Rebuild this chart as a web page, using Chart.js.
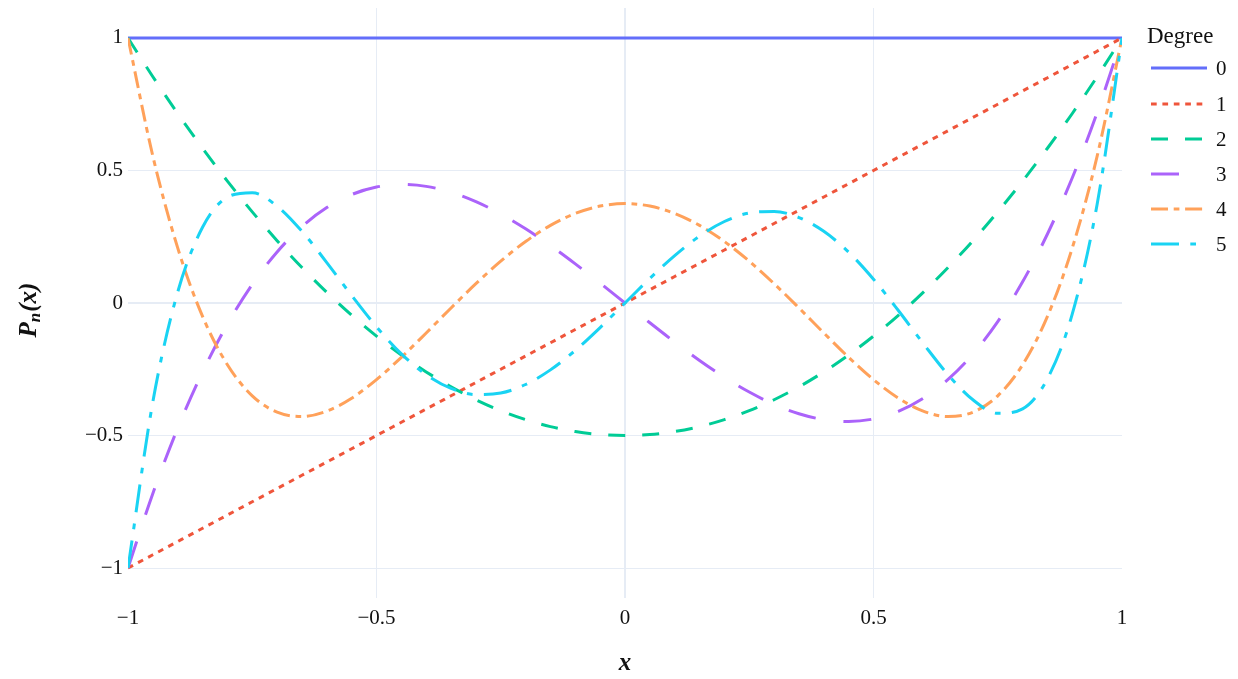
<!DOCTYPE html>
<html>
<head>
<meta charset="utf-8">
<script src="https://cdn.jsdelivr.net/npm/chart.js@4.4.1/dist/chart.umd.min.js"></script>
<style>
  html, body { margin: 0; padding: 0; background: #fff; }
  canvas { display: block; }
</style>
</head>
<body>
<canvas id="legendreChart" width="1238" height="679"></canvas>
<script>
// sample positions on the x axis
const xValues = [-1, -0.95, -0.9, -0.85, -0.8, -0.75, -0.7, -0.65, -0.6, -0.55, -0.5, -0.45, -0.4, -0.35, -0.3, -0.25, -0.2, -0.15, -0.1, -0.05,
    0, 0.05, 0.1, 0.15, 0.2, 0.25, 0.3, 0.35, 0.4, 0.45, 0.5, 0.55, 0.6, 0.65, 0.7, 0.75, 0.8, 0.85, 0.9, 0.95, 1];

const degreeLabels = ['0', '1', '2', '3', '4', '5'];

const p0 = [1, 1, 1, 1, 1, 1, 1, 1, 1, 1, 1, 1, 1, 1, 1, 1, 1, 1, 1, 1,
    1, 1, 1, 1, 1, 1, 1, 1, 1, 1, 1, 1, 1, 1, 1, 1, 1, 1, 1, 1, 1];
const p1 = [-1, -0.95, -0.9, -0.85, -0.8, -0.75, -0.7, -0.65, -0.6, -0.55, -0.5, -0.45, -0.4, -0.35, -0.3, -0.25, -0.2, -0.15, -0.1, -0.05,
    0, 0.05, 0.1, 0.15, 0.2, 0.25, 0.3, 0.35, 0.4, 0.45, 0.5, 0.55, 0.6, 0.65, 0.7, 0.75, 0.8, 0.85, 0.9, 0.95, 1];
const p2 = [1, 0.8538, 0.715, 0.5838, 0.46, 0.3438, 0.235, 0.1338, 0.04, -0.0463, -0.125, -0.1963, -0.26, -0.3163, -0.365, -0.4063, -0.44, -0.4663, -0.485, -0.4963,
    -0.5, -0.4963, -0.485, -0.4663, -0.44, -0.4063, -0.365, -0.3163, -0.26, -0.1963, -0.125, -0.0463, 0.04, 0.1338, 0.235, 0.3438, 0.46, 0.5838, 0.715, 0.8538, 1];
const p3 = [-1, -0.7184, -0.4725, -0.2603, -0.08, 0.0703, 0.1925, 0.2884, 0.36, 0.4091, 0.4375, 0.4472, 0.44, 0.4178, 0.3825, 0.3359, 0.28, 0.2166, 0.1475, 0.0747,
    0, -0.0747, -0.1475, -0.2166, -0.28, -0.3359, -0.3825, -0.4178, -0.44, -0.4472, -0.4375, -0.4091, -0.36, -0.2884, -0.1925, -0.0703, 0.08, 0.2603, 0.4725, 0.7184, 1];
const p4 = [1, 0.5541, 0.2079, -0.0506, -0.233, -0.3501, -0.4121, -0.4284, -0.408, -0.359, -0.2891, -0.205, -0.113, -0.0187, 0.0729, 0.1577, 0.232, 0.2928, 0.3379, 0.3657,
    0.375, 0.3657, 0.3379, 0.2928, 0.232, 0.1577, 0.0729, -0.0187, -0.113, -0.205, -0.2891, -0.359, -0.408, -0.4284, -0.4121, -0.3501, -0.233, -0.0506, 0.2079, 0.5541, 1];
const p5 = [-1, -0.3727, 0.0411, 0.2857, 0.3995, 0.4164, 0.3652, 0.2705, 0.1526, 0.0282, -0.0898, -0.1917, -0.2706, -0.3225, -0.3454, -0.3397, -0.3075, -0.2523, -0.1788, -0.0927,
    0, 0.0927, 0.1788, 0.2523, 0.3075, 0.3397, 0.3454, 0.3225, 0.2706, 0.1917, 0.0898, -0.0282, -0.1526, -0.2705, -0.3652, -0.4164, -0.3995, -0.2857, -0.0411, 0.3727, 1];

const yTickValues = [-1, -0.5, 0, 0.5, 1];

const seriesValues = [p0, p1, p2, p3, p4, p5];
const seriesColors = ['#636efa', '#EF553B', '#00cc96', '#ab63fa', '#FFA15A', '#19d3f3'];
const seriesDashes = [[], [5.7, 5.7], [17, 17], [28, 28], [17, 5.7, 5.7, 5.7], [28, 11.3, 5.7, 11.3]];

const FONT = '"Liberation Serif", "Times New Roman", serif';
const GRID = '#E6ECF5';

const fmtTick = (v) => (v < 0 ? '\u2212' + Math.abs(v) : String(v));

// legend + axis titles drawn by hand so the dashed samples look like the reference
const decorPlugin = {
    id: 'decor',
    afterDraw(chart) {
        const ctx = chart.ctx;
        const area = chart.chartArea;
        ctx.save();
        ctx.fillStyle = '#111';

        // legend
        ctx.font = '23px ' + FONT;
        ctx.textAlign = 'left';
        ctx.textBaseline = 'alphabetic';
        ctx.fillText('Degree', 1147, 43);
        const rowY = [68, 104, 139, 174, 209, 244];
        ctx.font = '21px ' + FONT;
        ctx.textBaseline = 'middle';
        degreeLabels.forEach((lab, i) => {
            ctx.strokeStyle = seriesColors[i];
            ctx.lineWidth = 3;
            ctx.setLineDash(seriesDashes[i]);
            ctx.beginPath();
            ctx.moveTo(1151, rowY[i]);
            ctx.lineTo(1207, rowY[i]);
            ctx.stroke();
            ctx.setLineDash([]);
            ctx.fillText(lab, 1216, rowY[i] + 1);
        });

        // x axis title
        ctx.font = 'italic bold 25px ' + FONT;
        ctx.textAlign = 'center';
        ctx.textBaseline = 'middle';
        ctx.fillText('x', (area.left + area.right) / 2, 664);

        // y axis title: P_n(x)
        ctx.translate(28, 310);
        ctx.rotate(-Math.PI / 2);
        const big = 'italic bold 25px ' + FONT;
        const small = 'italic bold 17px ' + FONT;
        ctx.font = big; const wP = ctx.measureText('P').width;
        ctx.font = small; const wN = ctx.measureText('n').width;
        ctx.font = big; const wX = ctx.measureText('(x)').width;
        let cx = -(wP + wN + 1 + wX) / 2;
        ctx.textAlign = 'left';
        ctx.textBaseline = 'alphabetic';
        ctx.font = big; ctx.fillText('P', cx, 8); cx += wP;
        ctx.font = small; ctx.fillText('n', cx, 12); cx += wN + 1;
        ctx.font = big; ctx.fillText('(x)', cx, 8);
        ctx.restore();
    }
};

new Chart(document.getElementById('legendreChart'), {
    type: 'line',
    data: {
        datasets: seriesValues.map((vals, i) => ({
            label: degreeLabels[i],
            data: xValues.map((x, k) => ({ x: x, y: vals[k] })),
            borderColor: seriesColors[i],
            borderWidth: 3,
            borderDash: seriesDashes[i],
            pointRadius: 0,
            fill: false,
            cubicInterpolationMode: 'monotone',
            order: 5 - i,
        })),
    },
    options: {
        responsive: false,
        animation: false,
        layout: { padding: { top: 8, right: 116, left: 0, bottom: 0 } },
        plugins: { legend: { display: false }, tooltip: { enabled: false } },
        scales: {
            x: {
                type: 'linear',
                min: -1,
                max: 1,
                afterFit: (s) => { s.height = 81; s.paddingLeft = 0; s.paddingRight = 0; },
                ticks: {
                    stepSize: 0.5,
                    autoSkip: false,
                    maxRotation: 0,
                    padding: 8,
                    color: '#111',
                    font: { family: FONT, size: 21 },
                    callback: fmtTick,
                },
                grid: {
                    drawTicks: false,
                    color: (c) => (c.tick && Math.abs(c.tick.value) === 1 ? 'rgba(0,0,0,0)' : GRID),
                    lineWidth: (c) => (c.tick && c.tick.value === 0 ? 2 : 1),
                },
                border: { display: false },
            },
            y: {
                type: 'linear',
                min: -1.113,
                max: 1.113,
                afterFit: (s) => { s.width = 128; s.paddingTop = 0; s.paddingBottom = 0; },
                afterBuildTicks: (s) => { s.ticks = yTickValues.map((v) => ({ value: v })); },
                ticks: {
                    padding: 5,
                    color: '#111',
                    font: { family: FONT, size: 21 },
                    callback: fmtTick,
                },
                grid: {
                    drawTicks: false,
                    color: GRID,
                    lineWidth: (c) => (c.tick && c.tick.value === 0 ? 2 : 1),
                },
                border: { display: false },
            },
        },
    },
    plugins: [decorPlugin],
});
</script>
</body>
</html>
